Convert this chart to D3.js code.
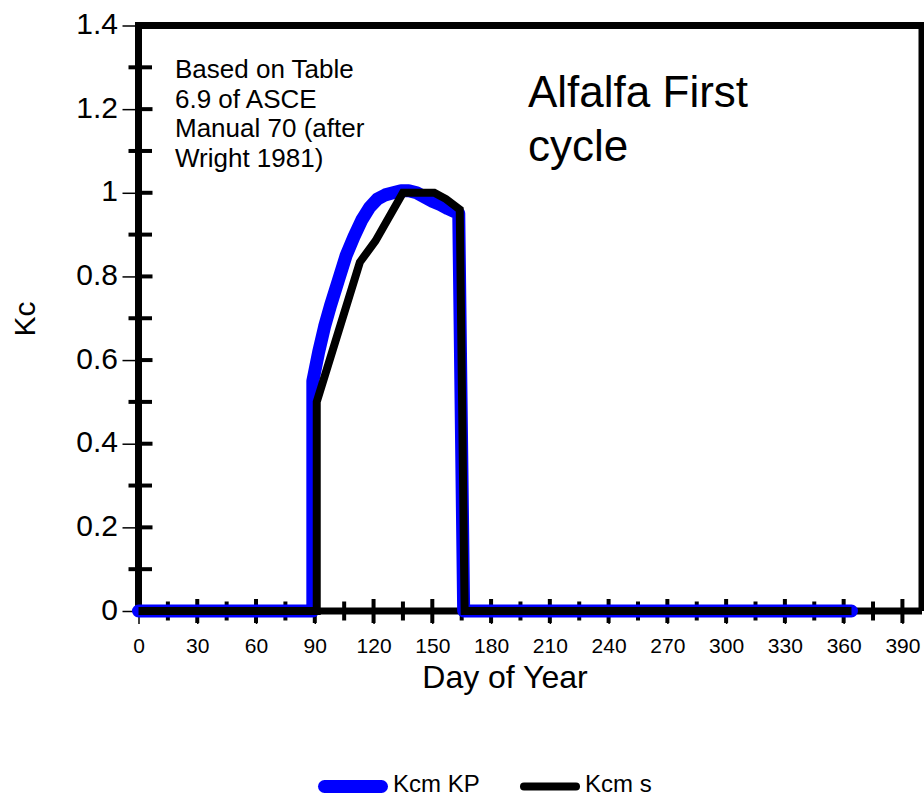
<!DOCTYPE html>
<html>
<head>
<meta charset="utf-8">
<script src="https://cdn.jsdelivr.net/npm/d3@7"></script>
<style>
	body { margin: 0; background: #fff; }
	text { font-family: "Liberation Sans", Arial, sans-serif; fill: #000; }
</style>
</head>
<body>
<svg id="chart"></svg>
<script>
// Kcm KP series (blue)
const kpDays = [0, 89, 89, 92, 95, 98, 102, 106, 110, 114, 118, 122, 126, 130, 134, 138, 142, 146, 150, 154, 158, 163.5, 166, 364];
const kpKc = [0, 0, 0.55, 0.62, 0.68, 0.73, 0.79, 0.85, 0.895, 0.935, 0.965, 0.985, 0.995, 1.0, 1.005, 1.005, 1.0, 0.99, 0.98, 0.972, 0.962, 0.95, 0, 0];

// Kcm s series (black)
const sDays = [0, 91, 91, 113, 121, 135, 151, 157, 164, 166.5, 364];
const sKc = [0, 0, 0.5, 0.834, 0.885, 1.0, 1.0, 0.985, 0.96, 0, 0];

// axis ticks
const xTickLabels = [0, 30, 60, 90, 120, 150, 180, 210, 240, 270, 300, 330, 360, 390];
const xMinorTicks = [15, 45, 75, 105, 135, 165, 195, 225, 255, 285, 315, 345, 375];
const yTickLabels = [0, 0.2, 0.4, 0.6, 0.8, 1, 1.2, 1.4];
const yMinorTicks = [0.1, 0.3, 0.5, 0.7, 0.9, 1.1, 1.3];

const noteLines = ["Based on Table", "6.9 of ASCE", "Manual 70 (after", "Wright 1981)"];
const titleLines = ["Alfalfa First", "cycle"];
const seriesNames = ["Kcm KP", "Kcm s"];

let width = 924;
let height = 799;
let blue = "#0000ff";

let x = d3.scaleLinear().domain([0, 400]).range([138.5, 922]);
let y = d3.scaleLinear().domain([0, 1.4]).range([611, 25.5]);

let svg = d3.select("#chart")
	.attr("width", width)
	.attr("height", height);

// frame: top and right borders
svg.append("path")
	.attr("d", "M" + x(0) + "," + y(1.4) + "H" + x(400) + "V" + y(0))
	.attr("fill", "none")
	.attr("stroke", "#000")
	.attr("stroke-width", 7);

// y axis labels with thin outside ticks
let yAxis = svg.append("g")
	.attr("transform", "translate(" + x(0) + ",0)")
	.call(d3.axisLeft(y).tickValues(yTickLabels).tickSize(16).tickPadding(4.5).tickFormat(d3.format("~g")));
yAxis.select(".domain").remove();
yAxis.selectAll(".tick line").attr("stroke-width", 1.5);
yAxis.selectAll("text").attr("font-size", 30).attr("dy", "0.27em");

// x axis labels
let xAxis = svg.append("g")
	.attr("transform", "translate(0," + y(0) + ")")
	.call(d3.axisBottom(x).tickValues(xTickLabels).tickSize(13).tickPadding(14));
xAxis.select(".domain").remove();
xAxis.selectAll(".tick line").attr("stroke-width", 1.5);
xAxis.selectAll("text").attr("font-size", 21);

// thick axis lines
svg.append("line")
	.attr("x1", x(0)).attr("x2", x(0))
	.attr("y1", y(1.4) - 3.5).attr("y2", y(0))
	.attr("stroke", "#000").attr("stroke-width", 7);
svg.append("line")
	.attr("x1", x(0)).attr("x2", x(400))
	.attr("y1", y(0)).attr("y2", y(0))
	.attr("stroke", "#000").attr("stroke-width", 7);

// crossing tick marks
svg.append("g")
	.attr("stroke", "#000")
	.attr("stroke-width", 4)
	.selectAll("line")
	.data(xTickLabels.slice(1))
	.join("line")
	.attr("x1", d => x(d)).attr("x2", d => x(d))
	.attr("y1", y(0) - 12).attr("y2", y(0) + 12);
svg.append("g")
	.attr("stroke", "#000")
	.attr("stroke-width", 4)
	.selectAll("line")
	.data(xMinorTicks)
	.join("line")
	.attr("x1", d => x(d)).attr("x2", d => x(d))
	.attr("y1", y(0) - 9.5).attr("y2", y(0) + 9.5);
svg.append("g")
	.attr("stroke", "#000")
	.attr("stroke-width", 4)
	.selectAll("line")
	.data(yTickLabels.slice(1))
	.join("line")
	.attr("x1", x(0)).attr("x2", x(0) + 14)
	.attr("y1", d => y(d)).attr("y2", d => y(d));
svg.append("g")
	.attr("stroke", "#000")
	.attr("stroke-width", 4)
	.selectAll("line")
	.data(yMinorTicks)
	.join("line")
	.attr("x1", x(0) - 10).attr("x2", x(0) + 13.5)
	.attr("y1", d => y(d)).attr("y2", d => y(d));

// series lines
let line = d3.line()
	.x(d => x(d[0]))
	.y(d => y(d[1]));

svg.append("path")
	.datum(d3.zip(kpDays, kpKc))
	.attr("d", line)
	.attr("fill", "none")
	.attr("stroke", blue)
	.attr("stroke-width", 13)
	.attr("stroke-linejoin", "round")
	.attr("stroke-linecap", "round");

svg.append("path")
	.datum(d3.zip(sDays, sKc))
	.attr("d", line)
	.attr("fill", "none")
	.attr("stroke", "#000")
	.attr("stroke-width", 8)
	.attr("stroke-linejoin", "miter");

// axis titles
svg.append("text")
	.attr("transform", "translate(35,319) rotate(-90)")
	.attr("text-anchor", "middle")
	.attr("font-size", 30)
	.text("Kc");

svg.append("text")
	.attr("x", 505)
	.attr("y", 688)
	.attr("text-anchor", "middle")
	.attr("font-size", 32)
	.text("Day of Year");

// note and title
svg.append("g")
	.selectAll("text")
	.data(noteLines)
	.join("text")
	.attr("x", 175)
	.attr("y", (d, i) => 78 + i * 29.6)
	.attr("font-size", 26)
	.text(d => d);

svg.append("g")
	.selectAll("text")
	.data(titleLines)
	.join("text")
	.attr("x", 528)
	.attr("y", (d, i) => 107 + i * 53.5)
	.attr("font-size", 44)
	.text(d => d);

// legend
let legend = svg.append("g");
legend.append("line")
	.attr("x1", 324.5).attr("x2", 381.5)
	.attr("y1", 786.5).attr("y2", 786.5)
	.attr("stroke", blue).attr("stroke-width", 13)
	.attr("stroke-linecap", "round");
legend.append("text")
	.attr("x", 393).attr("y", 792)
	.attr("font-size", 24)
	.text(seriesNames[0]);
legend.append("line")
	.attr("x1", 524).attr("x2", 576)
	.attr("y1", 786.5).attr("y2", 786.5)
	.attr("stroke", "#000").attr("stroke-width", 8)
	.attr("stroke-linecap", "round");
legend.append("text")
	.attr("x", 585).attr("y", 792)
	.attr("font-size", 24)
	.text(seriesNames[1]);
</script>
</body>
</html>
